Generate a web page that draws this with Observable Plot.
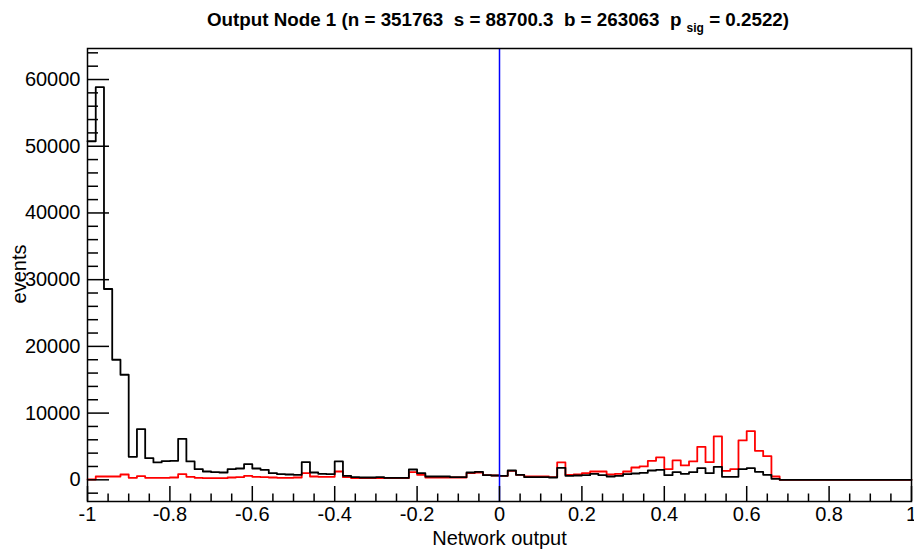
<!DOCTYPE html>
<html>
<head>
<meta charset="utf-8">
<script src="https://cdn.jsdelivr.net/npm/d3@7"></script>
<script src="https://cdn.jsdelivr.net/npm/@observablehq/plot@0.6"></script>
<style>
  html, body { margin: 0; padding: 0; background: #fff; }
  #title {
    position: relative; height: 40px; width: 914px;
    font-family: "Liberation Sans", Arial, Helvetica, sans-serif;
    font-weight: bold; font-size: 18.8px; color: #000; white-space: pre;
  }
  #title span.t { position: absolute; left: 86px; width: 824px; top: 9px; text-align: center; }
  #title sub { font-size: 12px; vertical-align: -6px; }
  #chart svg { display: block; }
</style>
</head>
<body>
<div id="title"><span class="t">Output Node 1 (n = 351763  s = 88700.3  b = 263063  p <sub>sig</sub> = 0.2522)</span></div>
<div id="chart"></div>
<script>
// Histogram binning (100 bins from -1 to 1)
const xMin = -1, xMax = 1, nBins = 100;
// Black histogram (all events) per bin
const blackCounts = [
  50750, 58850, 28600, 18000, 15750, 3450, 7600, 3250, 2600, 2800,
  2850, 6150, 2750, 1600, 1250, 1150, 1100, 1600, 1700, 2350,
  1700, 1500, 1000, 850, 800, 750, 2650, 1100, 900, 850,
  2750, 600, 400, 350, 350, 400, 300, 300, 300, 1550,
  1000, 500, 500, 500, 400, 400, 1100, 1200, 700, 650,
  600, 1400, 750, 400, 400, 400, 350, 1800, 600, 650,
  700, 900, 700, 500, 600, 850, 950, 1050, 1400, 1500,
  700, 1150, 900, 1150, 1750, 1000, 1950, 450, 450, 1600,
  1750, 1200, 750, 150, 0, 0, 0, 0, 0, 0,
  0, 0, 0, 0, 0, 0, 0, 0, 0, 0
];
// Red histogram (signal) per bin
const redCounts = [
  50, 500, 500, 500, 800, 300, 550, 300, 300, 300,
  350, 850, 450, 300, 250, 250, 250, 350, 400, 600,
  450, 400, 350, 300, 300, 350, 1000, 500, 450, 450,
  1250, 400, 250, 250, 250, 250, 250, 250, 250, 1150,
  750, 350, 350, 350, 350, 350, 1000, 1100, 700, 650,
  600, 1350, 750, 500, 500, 500, 400, 2600, 750, 800,
  1000, 1250, 1250, 800, 900, 1250, 1850, 2000, 2850, 3350,
  1600, 2900, 2150, 2750, 4950, 2650, 6500, 1350, 1600, 5900,
  7300, 4350, 3550, 500, 0, 0, 0, 0, 0, 0,
  0, 0, 0, 0, 0, 0, 0, 0, 0, 0
];
const cutValue = [0];
const xMajorTicks = [-1, -0.8, -0.6, -0.4, -0.2, 0, 0.2, 0.4, 0.6, 0.8, 1];
const xMinorTicks = [-0.95,-0.9,-0.85,-0.75,-0.7,-0.65,-0.55,-0.5,-0.45,-0.35,-0.3,-0.25,-0.15,-0.1,-0.05,
  0.05,0.1,0.15,0.25,0.3,0.35,0.45,0.5,0.55,0.65,0.7,0.75,0.85,0.9,0.95];
const yMajorTicks = [0, 10000, 20000, 30000, 40000, 50000, 60000];
const yMinorTicks = [-2000, 2000, 4000, 6000, 8000, 12000, 14000, 16000, 18000, 22000, 24000, 26000, 28000,
  32000, 34000, 36000, 38000, 42000, 44000, 46000, 48000, 52000, 54000, 56000, 58000, 62000, 64000];
const xLabel = "Network output";
const yLabel = "events";

const binW = (xMax - xMin) / nBins;
function steps(counts) {
  const pts = counts.map((v, i) => ({x: xMin + i * binW, y: v}));
  pts.push({x: xMax, y: counts[counts.length - 1]});
  return pts;
}

const W = 914, H = 509, mT = 8, mB = 48, mL = 87, mR = 3;
const plotW = W - mL - mR, plotH = H - mT - mB;
const font = "'Liberation Sans', Arial, Helvetica, sans-serif";

const chart = Plot.plot({
  width: W, height: H,
  marginTop: mT, marginBottom: mB, marginLeft: mL, marginRight: mR,
  x: {domain: [xMin, xMax]},
  y: {domain: [-3250, 64650]},
  style: {fontFamily: font, fontSize: "20px", color: "#000", background: "#fff", overflow: "visible"},
  marks: [
    Plot.line(steps(redCounts), {x: "x", y: "y", curve: "step-after", stroke: "#ff0000", strokeWidth: 1.8}),
    Plot.line(steps(blackCounts), {x: "x", y: "y", curve: "step-after", stroke: "#000", strokeWidth: 1.8}),
    Plot.ruleX(cutValue, {x: d => d, stroke: "#0000ff", strokeWidth: 1.5}),
    Plot.ruleX(xMajorTicks, {x: d => d, insetTop: plotH - 15, stroke: "#000", strokeWidth: 1.5}),
    Plot.ruleX(xMinorTicks, {x: d => d, insetTop: plotH - 7.5, stroke: "#000", strokeWidth: 1.5}),
    Plot.ruleY(yMajorTicks, {y: d => d, insetRight: plotW - 22, stroke: "#000", strokeWidth: 1.5}),
    Plot.ruleY(yMinorTicks, {y: d => d, insetRight: plotW - 11, stroke: "#000", strokeWidth: 1.5}),
    Plot.axisX({ticks: xMajorTicks, tickSize: 0, tickPadding: 5, tickFormat: d => String(d), fontSize: 20, label: null}),
    Plot.axisY({ticks: yMajorTicks, tickSize: 0, tickPadding: 7, tickFormat: d => String(d), fontSize: 20, label: null}),
    Plot.frame({stroke: "#000", strokeWidth: 1.5}),
    Plot.text([xLabel], {text: d => d, frameAnchor: "bottom", dy: 43, fontSize: 20}),
    Plot.text([yLabel], {text: d => d, frameAnchor: "left", textAnchor: "middle", lineAnchor: "middle", rotate: -90, dx: -68, dy: -1, fontSize: 20})
  ]
});
document.getElementById("chart").appendChild(chart);
</script>
</body>
</html>
